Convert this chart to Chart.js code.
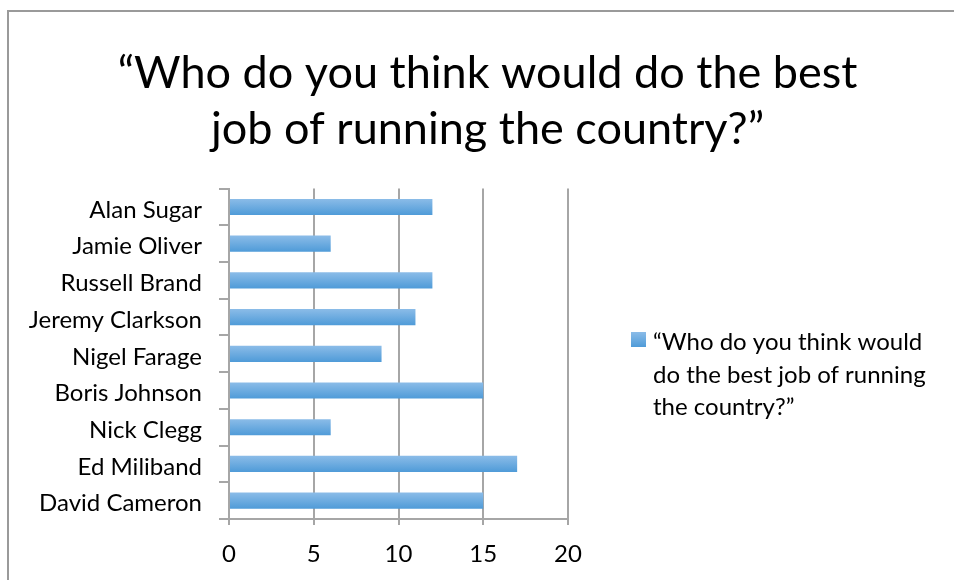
<!DOCTYPE html>
<html>
<head>
<meta charset="utf-8">
<script src="https://cdn.jsdelivr.net/npm/chart.js@4/dist/chart.umd.min.js"></script>
<style>
  html, body { margin: 0; padding: 0; background: #ffffff; overflow: hidden; }
  #wrap { position: relative; width: 954px; height: 580px; }
</style>
</head>
<body>
<div id="wrap"><canvas id="c" width="954" height="580"></canvas></div>
<script>
// ---- data (Excel order: bottom category first) ----
const categories = ["David Cameron", "Ed Miliband", "Nick Clegg", "Boris Johnson", "Nigel Farage",
                    "Jeremy Clarkson", "Russell Brand", "Jamie Oliver", "Alan Sugar"];
const seriesValues = [15, 17, 6, 15, 9, 11, 12, 6, 12];
const seriesName = "“Who do you think would do the best job of running the country?”";
const titleLines = ["“Who do you think would do the best", "job of running the country?”"];
const legendLines = ["“Who do you think would", "do the best job of running", "the country?”"];
const xTicks = [0, 5, 10, 15, 20];

const FONT = "Lato, 'Open Sans', sans-serif";
const GRID = '#a6a6a6';
const TOP_BLUE = '#8bbce8';
const BOT_BLUE = '#4f9bd8';

function barGradient(ctx) {
  const chart = ctx.chart;
  const y = chart.scales && chart.scales.y;
  if (!chart.chartArea || !y || ctx.dataIndex === undefined) return BOT_BLUE;
  const c = y.getPixelForValue(ctx.dataIndex);
  const half = (y.height / categories.length) * 0.44 / 2;
  const g = chart.ctx.createLinearGradient(0, c - half, 0, c + half);
  g.addColorStop(0, TOP_BLUE);
  g.addColorStop(1, BOT_BLUE);
  return g;
}

// Chart frame (border line)
const framePlugin = {
  id: 'frame',
  beforeDraw(chart) {
    const c = chart.ctx;
    c.save();
    c.strokeStyle = '#9a9a9a';
    c.lineWidth = 2;
    c.strokeRect(8, 11, 1200, 1200);
    c.restore();
  }
};

// Right-hand legend as a layout box, with wrapped series name
const sideLegend = {
  id: 'sideLegend',
  beforeInit(chart) {
    const box = {
      position: 'right', weight: 100, fullSize: true,
      options: { stackWeight: 1 },
      top: 0, left: 0, right: 0, bottom: 0, width: 0, height: 0,
      isHorizontal() { return false; },
      update(maxW, maxH) { this.width = 386; this.height = maxH; },
      getPadding() { return { top: 0, left: 0, right: 0, bottom: 0 }; },
      draw() {
        const c = chart.ctx;
        const x0 = this.left + 63, y0 = 332, sz = 15;
        c.save();
        const g = c.createLinearGradient(0, y0, 0, y0 + sz);
        g.addColorStop(0, TOP_BLUE); g.addColorStop(1, BOT_BLUE);
        c.fillStyle = g;
        c.fillRect(x0, y0, sz, sz);
        c.fillStyle = '#000000';
        c.font = "24px " + FONT;
        c.textBaseline = 'alphabetic';
        c.textAlign = 'left';
        legendLines.forEach((t, i) => c.fillText(t, x0 + 22, 350 + i * 32.5));
        c.restore();
      },
      _layers() { return [{ z: 0, draw: () => this.draw() }]; }
    };
    Chart.layouts.addBox(chart, box);
  }
};

new Chart(document.getElementById('c'), {
  type: 'bar',
  data: {
    labels: categories,
    datasets: [{
      label: seriesName,
      data: seriesValues,
      backgroundColor: barGradient,
      borderWidth: 0,
      barPercentage: 0.44,
      categoryPercentage: 1.0
    }]
  },
  options: {
    indexAxis: 'y',
    responsive: false,
    animation: false,
    devicePixelRatio: 1,
    layout: { padding: { top: 10, left: 21, right: 0, bottom: 0 } },
    plugins: {
      legend: { display: false },
      tooltip: { enabled: false },
      title: {
        display: true,
        text: titleLines,
        color: '#000000',
        font: { family: FONT, size: 45, weight: 'normal', lineHeight: 1.24 },
        padding: { top: 36, bottom: 31 }
      }
    },
    scales: {
      x: {
        min: 0, max: 20,
        afterBuildTicks(s) { s.ticks = xTicks.map(v => ({ value: v })); },
        afterFit(s) { s.height = 61; },
        grid: { color: GRID, lineWidth: 2, drawTicks: true, tickLength: 6, tickColor: GRID },
        border: { display: true, color: GRID, width: 2 },
        ticks: { color: '#000000', font: { family: FONT, size: 24 }, padding: 15 }
      },
      y: {
        reverse: true,
        afterFit(s) { s.width = 208; },
        grid: { drawOnChartArea: false, drawTicks: true, tickLength: 10, tickColor: GRID, lineWidth: 2, offset: true },
        border: { display: true, color: GRID, width: 2 },
        ticks: { color: '#000000', font: { family: FONT, size: 24 }, padding: 17, labelOffset: 3 }
      }
    }
  },
  plugins: [framePlugin, sideLegend]
});
</script>
</body>
</html>
